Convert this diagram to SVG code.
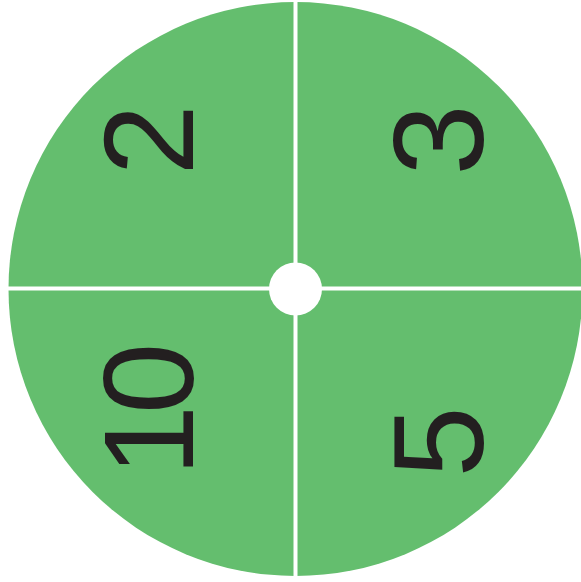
<svg xmlns="http://www.w3.org/2000/svg" width="581" height="582" viewBox="0 0 581 582">
<style>
.num{font-family:"Liberation Sans",Arial,sans-serif;font-size:128px;fill:#231F20;text-anchor:middle}
.div{stroke:#FFFFFF;stroke-width:4}
</style>
<rect width="581" height="582" fill="#FFFFFF"/>
<circle id="wheel" cx="295.5" cy="289" r="287" fill="#64BE6E"/>
<g id="sector-2"><text class="num" transform="translate(193,140) rotate(-90)">2</text></g>
<g id="sector-3"><text class="num" transform="translate(483,140) rotate(-90)">3</text></g>
<g id="sector-10"><text class="num" transform="translate(193,414) rotate(-90)" letter-spacing="-9">10</text></g>
<g id="sector-5"><text class="num" transform="translate(483,442) rotate(-90)">5</text></g>
<g id="dividers">
<line class="div" x1="295.5" y1="0" x2="295.5" y2="582"/>
<line class="div" x1="0" y1="288.5" x2="581" y2="288.5"/>
<circle cx="295.5" cy="289" r="26.5" fill="#FFFFFF"/>
</g>
</svg>
